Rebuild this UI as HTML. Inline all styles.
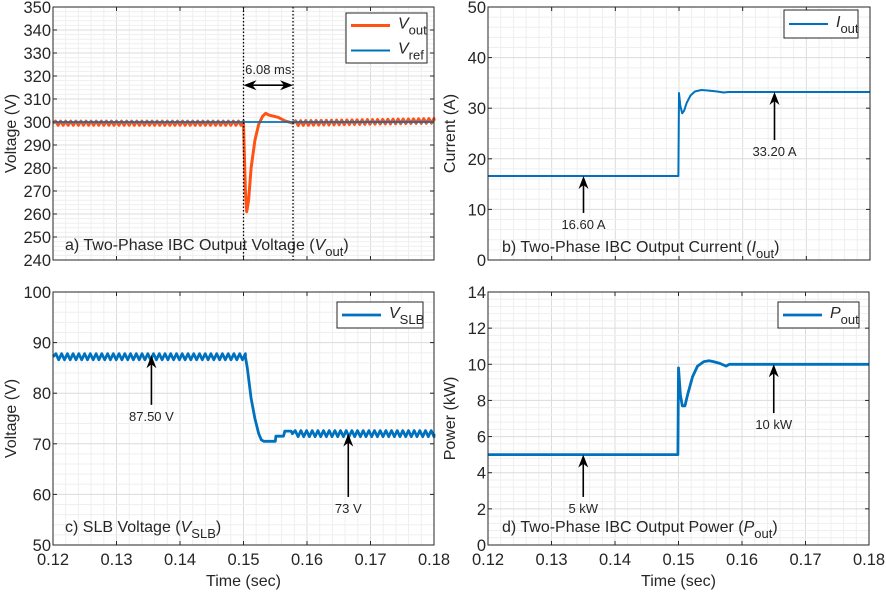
<!DOCTYPE html>
<html><head><meta charset="utf-8"><style>
body{margin:0;background:#fff}
svg text{font-family:"Liberation Sans",Arial,sans-serif;fill:#262626}
</style></head><body>
<svg id="fig" width="886" height="590" viewBox="0 0 886 590" xmlns="http://www.w3.org/2000/svg"></svg>
<script>
// ---- data ----
const xTicks = [0.12,0.13,0.14,0.15,0.16,0.17,0.18];
const voutT = [0.12,0.1500,0.1501,0.1503,0.1505,0.1508,0.1512,0.1518,0.1524,0.1530,0.1535,0.1540,0.1548,0.1555,0.1565,0.1578,0.18];
const voutV = [299.5,299.5,290,270,261,266,280,292,299,302.5,303.8,303,302.5,302,300.5,299.5,300.5];
const voutRip = [0.9,0,0,0,0,0,0,0,0,0,0,0,0,0,0,1.0];
const vrefT = [0.12,0.18];
const vrefV = [300,300];
const ioutT = [0.12,0.1499,0.1500,0.1502,0.1505,0.1508,0.1512,0.1518,0.1525,0.1535,0.1545,0.1560,0.1570,0.1578,0.18];
const ioutV = [16.6,16.6,33,30.5,29,29.5,31,32.5,33.3,33.6,33.5,33.3,33.1,33.2,33.2];
const vslbT = [0.12,0.1503,0.1506,0.1512,0.1518,0.1524,0.1528,0.1532,0.1550,0.1551,0.1563,0.1565,0.1575,0.1577,0.18];
const vslbV = [87.2,87.2,85,79,75,72,70.8,70.5,70.5,71.5,71.5,72.5,72.5,72,72];
const vslbRip = [0.6,0,0,0,0,0,0,0,0,0,0,0,0,0.6];
const poutT = [0.12,0.1499,0.1500,0.1503,0.1506,0.1510,0.1515,0.1522,0.1530,0.1540,0.1548,0.1555,0.1565,0.1575,0.1580,0.18];
const poutV = [5,5,9.8,8.3,7.7,7.7,8.4,9.3,9.9,10.15,10.2,10.15,10.05,9.9,10,10];
// ---- helpers ----
const NS="http://www.w3.org/2000/svg", svg=document.getElementById('fig');
function mk(tag,attrs,parent){const e=document.createElementNS(NS,tag);for(const k in attrs)e.setAttribute(k,attrs[k]);(parent||svg).appendChild(e);return e;}
function panel(cfg){
  const {L,R,T,B,ymin,ymax,ystep}=cfg;
  const g=mk('g',{});
  
  
  const X=t=>L+(t-0.12)/0.06*(R-L), Y=v=>B-(v-ymin)/(ymax-ymin)*(B-T);
  for(let i=0;i<=30;i++){const x=L+i*(R-L)/30;mk('line',{x1:x,x2:x,y1:T,y2:B,stroke:i%5?'#efefef':'#dcdcdc','stroke-width':1},g);}
  const ny=Math.round((ymax-ymin)/ystep);
  for(let i=0;i<=ny*5;i++){const y=B-i*(B-T)/(ny*5);mk('line',{x1:L,x2:R,y1:y,y2:y,stroke:i%5?'#efefef':'#dcdcdc','stroke-width':1},g);}
  for(let i=0;i<=ny;i++){const v=ymin+i*ystep,y=Y(v);
    mk('line',{x1:L,x2:L+4,y1:y,y2:y,stroke:'#262626'},g);mk('line',{x1:R-4,x2:R,y1:y,y2:y,stroke:'#262626'},g);
    const tx=mk('text',{x:L-2,y:y+6,'text-anchor':'end','font-size':16.5},g);tx.textContent=String(v);
    
    }
  xTicks.forEach(t=>{const x=X(t);mk('line',{x1:x,x2:x,y1:B,y2:B-4,stroke:'#262626'},g);mk('line',{x1:x,x2:x,y1:T,y2:T+4,stroke:'#262626'},g);
    if(cfg.xlabels){const tx=mk('text',{x:x,y:B+20,'text-anchor':'middle','font-size':16.5},g);tx.textContent=t.toFixed(2);
      
      }});
  if(cfg.xlabels){const tx=mk('text',{x:(L+R)/2,y:B+41,'text-anchor':'middle','font-size':16},g);tx.textContent='Time (sec)';
    
    }
  const yl=mk('text',{x:0,y:0,'text-anchor':'middle','font-size':16,transform:`translate(${cfg.ylx},${(T+B)/2}) rotate(-90)`},g);yl.textContent=cfg.ylabel;
  
  
  cfg.X=X;cfg.Y=Y;cfg.g=g;return cfg;
}
function series(p,ts,vs,rip,period,color,w,name){
  let d='';
  for(let i=0;i<ts.length;i++){
    if(i>0&&rip&&rip[i-1]>0){
      const a=rip[i-1],t0=ts[i-1],t1=ts[i];const n=Math.max(2,Math.round((t1-t0)/period*2));
      for(let k=1;k<=n;k++){const t=t0+(t1-t0)*k/n;const v=vs[i-1]+(vs[i]-vs[i-1])*k/n+(k%2?a:-a);d+=`L${p.X(t).toFixed(1)},${p.Y(v).toFixed(1)}`;}
    }
    d+=(i?'L':'M')+p.X(ts[i]).toFixed(1)+','+p.Y(vs[i]).toFixed(1);
  }
  const e=mk('path',{d,fill:'none',stroke:color,'stroke-width':w,'stroke-linejoin':'round'},p.g);
  
  
}
function arrow(p,t,tip,tail,label,name){
  const x=p.X(t),y1=p.Y(tip),y2=p.Y(tail);
  mk('line',{x1:x,x2:x,y1:y1+3,y2:y2,stroke:'#000','stroke-width':1.6},p.g);
  const h=mk('path',{d:`M${x},${y1}L${x-5},${y1+13}L${x},${y1+9}L${x+5},${y1+13}Z`,fill:'#000'},p.g);
  
  
  const tx=mk('text',{x:x,y:y2+16,'text-anchor':'middle','font-size':13},p.g);tx.textContent=label;
  
  
}
function border(p){mk('rect',{x:p.L,y:p.T,width:p.R-p.L,height:p.B-p.T,fill:'none',stroke:'#262626','stroke-width':1},p.g);}
function legend(p,x,y,w,h,items){
  const g=mk('g',{},p.g);
  
  
  mk('rect',{x,y,width:w,height:h,fill:'#fff',stroke:'#262626'},g);
  items.forEach((it,i)=>{const cy=y+(h/items.length)*(i+0.5);
    const l=mk('line',{x1:x+5,x2:x+44,y1:cy,y2:cy,stroke:it[0],'stroke-width':it[3]},g);
    
    
    const tx=mk('text',{x:x+52,y:cy+3,'font-size':16},g);
    tx.innerHTML=`<tspan font-style="italic">${it[1]}</tspan><tspan font-size="13" dy="6">${it[2]}</tspan>`;});
}
function title(p,x,y,pre,sym,sub){
  const tx=mk('text',{x,y,'font-size':16},p.g);
  tx.innerHTML=`${pre}(<tspan font-style="italic">${sym}</tspan><tspan font-size="13" dy="6">${sub}</tspan><tspan dy="-6">)</tspan>`;
  
  
}
// ---- panel a ----
const a=panel({name:'panel-a-voltage',L:53,R:434,T:7,B:260,ymin:240,ymax:350,ystep:10,ylabel:'Voltage (V)',ylx:16,xlabels:false});
series(a,voutT,voutV,voutRip,0.0008,'#FF5316',3,'vout-line');
series(a,vrefT,vrefV,null,1,'#0072BD',1.8,'vref-line');
[0.15,0.1578].forEach(t=>{const l=mk('line',{x1:a.X(t),x2:a.X(t),y1:a.T,y2:a.B,stroke:'#000','stroke-width':1.3,'stroke-dasharray':'1.5,2'},a.g);
  
  });
{const y=a.Y(316),x1=a.X(0.15),x2=a.X(0.1578);
 mk('line',{x1:x1+4,x2:x2-4,y1:y,y2:y,stroke:'#000','stroke-width':1.6},a.g);
 mk('path',{d:`M${x1},${y}L${x1+13},${y-5}L${x1+9},${y}L${x1+13},${y+5}Z M${x2},${y}L${x2-13},${y-5}L${x2-9},${y}L${x2-13},${y+5}Z`,fill:'#000'},a.g);
 const tx=mk('text',{x:(x1+x2)/2,y:a.Y(323)+5,'text-anchor':'middle','font-size':13},a.g);tx.textContent='6.08 ms';
 
 }
legend(a,346,13,81,50,[['#FF5316','V','out',3],['#0072BD','V','ref',2]]);
title(a,65,250,'a) Two-Phase IBC Output Voltage ','V','out');
border(a);
// ---- panel b ----
const b=panel({name:'panel-b-current',L:488,R:870,T:7,B:260,ymin:0,ymax:50,ystep:10,ylabel:'Current (A)',ylx:455,xlabels:false});
series(b,ioutT,ioutV,null,1,'#0072BD',2,'iout-line');
arrow(b,0.135,16.6,9.3,'16.60 A','iout-before');
arrow(b,0.165,33.2,23.7,'33.20 A','iout-after');
legend(b,784,10,74,28,[['#0072BD','I','out',2]]);
title(b,502,252,'b) Two-Phase IBC Output Current ','I','out');
border(b);
// ---- panel c ----
const c=panel({name:'panel-c-slb-voltage',L:53,R:434,T:292,B:545,ymin:50,ymax:100,ystep:10,ylabel:'Voltage (V)',ylx:16,xlabels:true});
series(c,vslbT,vslbV,vslbRip,0.0009,'#0072BD',2.8,'vslb-line');
arrow(c,0.1355,87.5,77.7,'87.50 V','vslb-before');
arrow(c,0.1665,72,59.5,'73 V','vslb-after');
legend(c,337,302,86,26,[['#0072BD','V','SLB',2.8]]);
title(c,65,532,'c) SLB Voltage ','V','SLB');
border(c);
// ---- panel d ----
const d=panel({name:'panel-d-power',L:488,R:869,T:292,B:545,ymin:0,ymax:14,ystep:2,ylabel:'Power (kW)',ylx:455,xlabels:true});
series(d,poutT,poutV,null,1,'#0072BD',2.8,'pout-line');
arrow(d,0.135,5,2.66,'5 kW','pout-before');
arrow(d,0.165,10,7.3,'10 kW','pout-after');
legend(d,778,302,81,26,[['#0072BD','P','out',2.8]]);
title(d,502,532,'d) Two-Phase IBC Output Power ','P','out');
border(d);
</script>
</body></html>
